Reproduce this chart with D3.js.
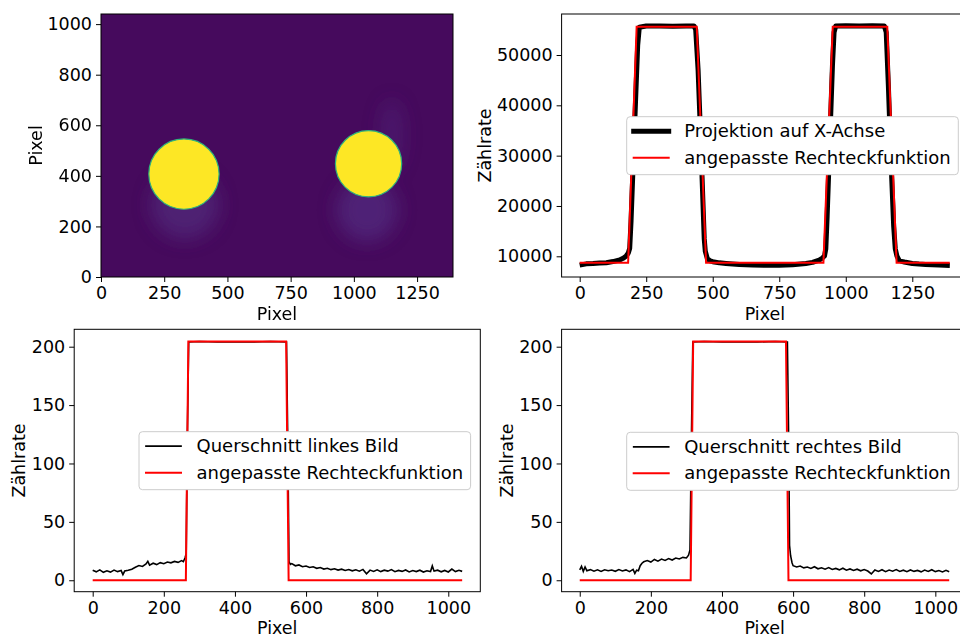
<!DOCTYPE html>
<html>
<head>
<meta charset="utf-8">
<script src="https://cdn.jsdelivr.net/npm/d3@7"></script>
<style>
html,body{margin:0;padding:0;background:#fff;}
svg{display:block;font-family:"DejaVu Sans",sans-serif;}
</style>
</head>
<body>
<svg id="chart" width="960" height="639"></svg>
<script>
// ---------------- DATA ----------------
// Panel 1: detector image (pixel coordinates of bright spots and faint halos)
const imageSize = [1392, 1040];
const spotX = [328, 1058];
const spotY = [407, 448];
const spotR = [139, 131];
const haloX = [332, 1052, 1150];
const haloY = [285, 265, 560];
const haloRx = [135, 120, 45];
const haloRy = [135, 125, 140];
const haloAlpha = [0.5, 0.55, 0.35];
const imgXTicks = [0, 250, 500, 750, 1000, 1250];
const imgYTicks = [0, 200, 400, 600, 800, 1000];

// Panel 2: projection onto x axis and fitted rectangle function
const projection = [[0,8250],[25,8500],[50,8550],[75,8650],[100,8730],[125,8950],[150,9260],[165,9650],[175,10060],[183,10700],[188,11600],[193,17000],[200,27000],[210,41000],[218,52000],[224,55500],[250,55750],[300,55750],[350,55700],[400,55750],[430,55750],[436,55000],[445,47000],[455,33000],[463,21000],[468,13500],[472,11000],[480,9500],[490,9100],[500,8930],[525,8700],[550,8570],[600,8350],[650,8270],[700,8200],[750,8220],[800,8300],[850,8570],[875,8800],[900,9260],[912,9650],[920,10060],[925,11500],[930,18000],[940,33000],[950,48000],[956,54500],[962,55750],[1000,55800],[1050,55750],[1100,55800],[1145,55750],[1152,54500],[1160,44000],[1170,29000],[1180,16000],[1186,11500],[1192,10100],[1200,9260],[1210,9000],[1220,8870],[1250,8570],[1275,8450],[1300,8370],[1350,8250],[1391,8170]];
const projFit = [[0,8700],[182,8700],[214,55600],[440,55600],[475,8700],[916,8700],[951,55600],[1156,55600],[1191,8700],[1391,8700]];
const projXTicks = [0, 250, 500, 750, 1000, 1250];
const projYTicks = [10000, 20000, 30000, 40000, 50000];

// Panel 3: cross-section of left spot
const csLeft = [[0,8.6],[10,7.2],[20,8.9],[30,6.8],[40,8.1],[50,7.0],[60,8.7],[70,7.4],[80,8.3],[85,4.8],[90,7.9],[100,8.6],[110,9.5],[120,11.2],[130,12.6],[140,11.8],[150,13.9],[155,16.2],[160,12.9],[170,14.6],[180,13.4],[190,15.1],[200,14.2],[210,15.6],[220,14.9],[230,16.1],[240,15.3],[250,16.8],[255,15.9],[260,19.5],[263,23],[266,120],[270,204],[300,204.5],[350,204],[400,204.3],[450,204],[500,204.4],[545,204],[549,110],[552,16],[556,13.5],[560,14.2],[570,12.4],[580,13.1],[590,11.6],[600,12.2],[610,10.9],[620,11.5],[630,10.2],[640,10.9],[650,9.6],[660,10.3],[670,9.1],[680,9.8],[690,8.7],[700,9.5],[710,8.4],[720,9.2],[730,8.1],[740,9.0],[750,7.8],[760,9.3],[770,5.6],[780,8.7],[790,7.6],[800,8.9],[810,7.4],[820,8.6],[830,7.8],[840,9.1],[850,7.3],[860,8.4],[870,7.6],[880,8.8],[890,7.1],[900,8.3],[910,7.4],[920,8.6],[930,7.0],[940,8.1],[950,7.5],[955,12.3],[960,7.8],[970,8.6],[980,7.2],[990,8.4],[1000,7.1],[1010,9.6],[1020,7.4],[1030,8.5],[1039,7.6]];
const csLeftFit = [[0,0],[262,0],[269,204.4],[544,204.4],[551,0],[1039,0]];

// Panel 4: cross-section of right spot
const csRight = [[0,8.9],[5,12],[10,7.6],[15,11.4],[20,8.2],[30,9.1],[40,7.8],[50,8.9],[60,7.6],[70,9.0],[80,8.1],[90,8.8],[100,7.7],[110,9.2],[120,8.0],[130,8.9],[140,7.4],[150,9.3],[155,5.9],[160,8.6],[165,8.2],[170,12.5],[175,14.6],[180,15.8],[190,16.9],[200,15.6],[210,17.8],[220,16.4],[230,18.1],[240,17.0],[250,18.6],[260,17.3],[270,19.0],[280,18.2],[290,19.6],[300,19.1],[306,21.5],[310,26],[314,120],[318,204],[350,204.4],[400,204],[450,204.3],[500,204],[550,204.5],[584,204],[588,110],[590,30],[593,21],[597,15],[600,12.5],[610,11.4],[620,12.2],[630,10.6],[640,11.3],[650,10.1],[660,11.6],[670,9.8],[680,10.7],[690,9.5],[700,10.9],[710,9.2],[720,10.1],[730,8.9],[740,10.3],[750,8.6],[760,9.7],[770,8.4],[780,9.5],[790,8.1],[800,9.2],[810,7.9],[820,5.4],[830,8.8],[840,7.6],[850,9.0],[860,7.4],[870,8.7],[880,7.8],[890,9.1],[900,7.5],[910,8.6],[920,7.3],[930,8.8],[940,7.6],[950,8.4],[960,7.2],[970,8.7],[980,7.5],[990,9.0],[1000,7.4],[1010,8.3],[1020,7.1],[1030,8.5],[1039,7.3]];
const csRightFit = [[0,0],[312,0],[319,204.4],[580,204.4],[587,0],[1039,0]];
const csXTicks = [0, 200, 400, 600, 800, 1000];
const csYTicks = [0, 50, 100, 150, 200];

const legendProj = ["Projektion auf X-Achse", "angepasste Rechteckfunktion"];
const legendLeft = ["Querschnitt linkes Bild", "angepasste Rechteckfunktion"];
const legendRight = ["Querschnitt rechtes Bild", "angepasste Rechteckfunktion"];
const xLabel = "Pixel";
const yLabelImg = "Pixel";
const yLabelRate = "Zählrate";

// ---------------- DRAW ----------------
const svg = d3.select("#chart");
const FS = 17.5;
const LFS = 18;
const defs = svg.append("defs");
defs.append("filter").attr("id","blur").attr("x","-50%").attr("y","-50%").attr("width","200%").attr("height","200%")
  .append("feGaussianBlur").attr("stdDeviation", 9);

function axes(id, box, xDom, yDom, xTicks, yTicks, ylab, ylabX) {
  const x = d3.scaleLinear().domain(xDom).range([box.x0, box.x1]);
  const y = d3.scaleLinear().domain(yDom).range([box.y1, box.y0]);
  const g = svg.append("g");
  defs.append("clipPath").attr("id", "clip"+id).append("rect")
    .attr("x", box.x0).attr("y", box.y0).attr("width", box.x1-box.x0).attr("height", box.y1-box.y0);
  const plot = g.append("g").attr("clip-path", `url(#clip${id})`);
  return {x, y, g, plot, box, finish: function(){
    const ax = g.append("g").attr("transform", `translate(0,${box.y1})`)
      .call(d3.axisBottom(x).tickValues(xTicks).tickSize(5).tickPadding(5).tickSizeOuter(0).tickFormat(d3.format("d")));
    const ay = g.append("g").attr("transform", `translate(${box.x0},0)`)
      .call(d3.axisLeft(y).tickValues(yTicks).tickSize(5).tickPadding(4).tickSizeOuter(0).tickFormat(d3.format("d")));
    [ax, ay].forEach(a => {
      a.select(".domain").remove();
      a.selectAll("text").attr("font-size", FS).attr("font-family", "DejaVu Sans").attr("fill", "#000");
      a.selectAll("line").attr("stroke", "#000").attr("stroke-width", 1);
    });
    g.append("rect").attr("x", box.x0).attr("y", box.y0).attr("width", box.x1-box.x0).attr("height", box.y1-box.y0)
      .attr("fill", "none").attr("stroke", "#000").attr("stroke-width", 1);
    g.append("text").attr("x", (box.x0 + box.x1)/2).attr("y", box.y1+42.5)
      .attr("text-anchor","middle").attr("font-size", FS).text(xLabel);
    const cy = (box.y0 + box.y1)/2;
    g.append("text").attr("transform", `translate(${ylabX},${cy}) rotate(-90)`)
      .attr("text-anchor","middle").attr("font-size", FS).text(ylab);
  }};
}

function legend(g, bx, by, labels, styles) {
  const w = 331.6, h = 58;
  g.append("rect").attr("x", bx).attr("y", by).attr("width", w).attr("height", h)
    .attr("rx", 3.5).attr("fill", "#fff").attr("stroke", "#cccccc").attr("stroke-width", 1);
  labels.forEach((t, i) => {
    const ly = by + 14.5 + i*26.5;
    g.append("line").attr("x1", bx+7).attr("x2", bx+42).attr("y1", ly).attr("y2", ly)
      .attr("stroke", styles[i].c).attr("stroke-width", styles[i].w).attr("stroke-linecap","square");
    g.append("text").attr("x", bx+57.5).attr("y", ly).attr("dy","0.34em").attr("font-size", LFS).text(t);
  });
}

// Panel 1 - image
const p1 = axes(1, {x0:101, x1:453, y0:14, y1:277}, [0, imageSize[0]], [0, imageSize[1]], imgXTicks, imgYTicks, yLabelImg, 41.7);
p1.plot.append("rect").attr("x", p1.x(0)).attr("y", p1.y(imageSize[1]))
  .attr("width", p1.x(imageSize[0]) - p1.x(0)).attr("height", p1.y(0) - p1.y(imageSize[1])).attr("fill", "#460a5d");
p1.plot.append("g").attr("filter","url(#blur)").selectAll("ellipse").data(haloX).join("ellipse")
  .attr("cx", (d) => p1.x(d)).attr("cy", (d,i) => p1.y(haloY[i]))
  .attr("rx", (d,i) => p1.x(haloRx[i]) - p1.x(0)).attr("ry", (d,i) => p1.y(0) - p1.y(haloRy[i]))
  .attr("fill", "#55358a").attr("opacity", (d,i) => haloAlpha[i]);
p1.plot.selectAll("circle").data(spotX).join("circle")
  .attr("cx", (d) => p1.x(d)).attr("cy", (d,i) => p1.y(spotY[i]))
  .attr("r", (d,i) => p1.x(spotR[i]) - p1.x(0))
  .attr("fill", "#fde725").attr("stroke", "#2fb47c").attr("stroke-width", 1.2);
p1.finish();

// Panel 2 - projection
const k2 = (912.3-579.7)/1250;
const p2 = axes(2, {x0:561.6, x1:561.6+1528*k2, y0:14, y1:277}, [-68, 1460], [5887, 58147], projXTicks, projYTicks, yLabelRate, 491);
const line2 = d3.line().x(d => p2.x(d[0])).y(d => p2.y(d[1]));
p2.plot.append("path").datum(projection).attr("d", line2).attr("fill","none").attr("stroke","#000").attr("stroke-width",5).attr("stroke-linejoin","round");
p2.plot.append("path").datum(projFit).attr("d", line2).attr("fill","none").attr("stroke","#ff0000").attr("stroke-width",2);
p2.finish();
legend(p2.g, 626.7, 116.7, legendProj, [{c:"#000", w:5},{c:"#ff0000", w:2}]);

// Panel 3 - left cross-section
const k3 = 0.3556;
const p3 = axes(3, {x0:74.2, x1:480.3, y0:329.3, y1:591.7}, [-52, 1090], [-9.8, 214.9], csXTicks, csYTicks, yLabelRate, 25);
const line3 = d3.line().x(d => p3.x(d[0])).y(d => p3.y(d[1]));
p3.plot.append("path").datum(csLeft).attr("d", line3).attr("fill","none").attr("stroke","#000").attr("stroke-width",1.6);
p3.plot.append("path").datum(csLeftFit).attr("d", line3).attr("fill","none").attr("stroke","#ff0000").attr("stroke-width",2);
p3.finish();
legend(p3.g, 139, 431.7, legendLeft, [{c:"#000", w:1.7},{c:"#ff0000", w:2}]);

// Panel 4 - right cross-section
const p4 = axes(4, {x0:561.6, x1:561.6+1142*k3, y0:329.3, y1:591.7}, [-51, 1091], [-9.8, 214.9], csXTicks, csYTicks, yLabelRate, 513.3);
const line4 = d3.line().x(d => p4.x(d[0])).y(d => p4.y(d[1]));
p4.plot.append("path").datum(csRight).attr("d", line4).attr("fill","none").attr("stroke","#000").attr("stroke-width",1.6);
p4.plot.append("path").datum(csRightFit).attr("d", line4).attr("fill","none").attr("stroke","#ff0000").attr("stroke-width",2);
p4.finish();
legend(p4.g, 626.7, 432.3, legendRight, [{c:"#000", w:1.7},{c:"#ff0000", w:2}]);
</script>
</body>
</html>
